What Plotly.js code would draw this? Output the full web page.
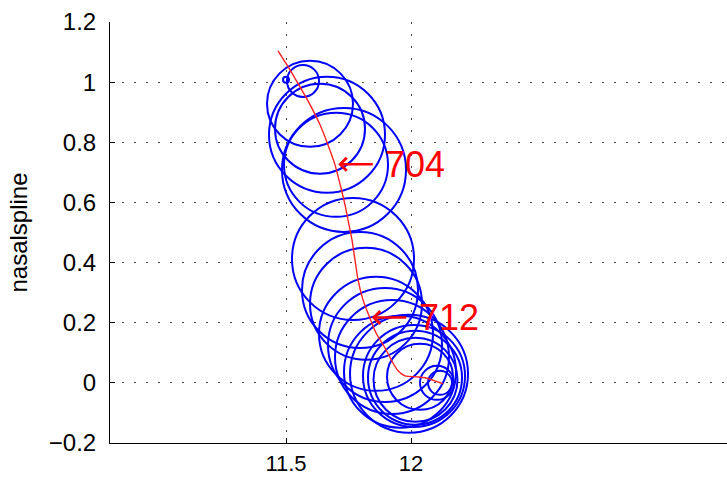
<!DOCTYPE html>
<html>
<head>
<meta charset="utf-8">
<script src="https://cdn.plot.ly/plotly-3.0.1.min.js"></script>
<style>html,body{margin:0;padding:0;background:#fff;}#chart{width:727px;height:479px;}</style>
</head>
<body>
<div id="chart"></div>
<script>
// Red trajectory
const pathX = [11.468, 11.516, 11.556, 11.596, 11.636, 11.668, 11.696, 11.720, 11.736, 11.748, 11.764, 11.776, 11.788, 11.808, 11.832, 11.860, 11.896, 11.928, 11.948, 11.976, 12.024, 12.056, 12.128];
const pathY = [1.104, 1.041, 0.984, 0.925, 0.858, 0.791, 0.725, 0.648, 0.592, 0.542, 0.475, 0.409, 0.343, 0.276, 0.223, 0.166, 0.116, 0.066, 0.040, 0.023, 0.020, 0.017, -0.003];

// Blue circles (centre and diameter in px)
const circleX = [11.500, 11.568, 11.596, 11.636, 11.664, 11.700, 11.732, 11.768, 11.796, 11.820, 11.860, 11.896, 11.924, 11.956, 11.992, 12.012, 12.016, 12.018, 12.036, 12.104, 12.116];
const circleY = [1.008, 1.004, 0.928, 0.845, 0.825, 0.725, 0.708, 0.412, 0.309, 0.263, 0.163, 0.126, 0.086, 0.037, 0.030, 0.023, 0.017, 0.010, 0.020, 0.000, 0.000];
const circleSize = [6, 32, 86, 90, 116, 104, 124, 122, 116, 112, 114, 114, 114, 112, 118, 102, 94, 84, 66, 34, 24];

// Labels
const labelText = ["704", "712"];
const labelX = [11.709, 11.843];
const labelY = [0.727, 0.217];

// Axis ticks
const xTicks = [11.5, 12];
const xTickText = ["11.5", "12"];
const yTicks = [-0.2, 0, 0.2, 0.4, 0.6, 0.8, 1, 1.2];
const yTickText = ["\u22120.2", "0", "0.2", "0.4", "0.6", "0.8", "1", "1.2"];

const traces = [
  {
    x: circleX, y: circleY, mode: 'markers', type: 'scatter', hoverinfo: 'skip',
    marker: {symbol: 'circle-open', size: circleSize, color: '#0000ff', opacity: 1, line: {color: '#0000ff', width: 2}},
    cliponaxis: false
  },
  {
    x: pathX, y: pathY, mode: 'lines', type: 'scatter', hoverinfo: 'skip',
    line: {color: '#ff2020', width: 1.4, shape: 'spline', smoothing: 0.6}
  }
];

const annotations = labelText.map((t, i) => ({
  x: labelX[i], y: labelY[i], xref: 'x', yref: 'y',
  text: t, showarrow: true, ax: 77, ay: 0,
  arrowhead: 4, arrowsize: 1, arrowwidth: 2.5, arrowcolor: '#ff0000',
  borderpad: 12, standoff: 0,
  font: {family: 'Liberation Sans, Arial, sans-serif', size: 36, color: '#ff0000'}
}));

const axisFont = {family: 'Liberation Sans, Arial, sans-serif', size: 24, color: '#000'};
const xFont = {family: 'Liberation Sans, Arial, sans-serif', size: 22, color: '#000'};

const layout = {
  width: 727, height: 479,
  margin: {l: 110, r: 0, t: 22, b: 36, pad: 0},
  paper_bgcolor: '#fff', plot_bgcolor: '#fff',
  showlegend: false,
  xaxis: {
    range: [10.796, 13.264], tickvals: xTicks, ticktext: xTickText,
    showline: true, linecolor: '#000', linewidth: 1, mirror: false,
    ticks: 'inside', ticklen: 5, tickcolor: '#000',
    showgrid: true, gridcolor: '#444', gridwidth: 1, griddash: '2px,10px',
    zeroline: false, tickfont: xFont, ticklabelstandoff: 1
  },
  yaxis: {
    range: [-0.2, 1.2], tickvals: yTicks, ticktext: yTickText,
    showline: true, linecolor: '#000', linewidth: 1, mirror: false,
    ticks: 'inside', ticklen: 5, tickcolor: '#000',
    showgrid: true, gridcolor: '#444', gridwidth: 1, griddash: '2px,10px',
    zeroline: false, tickfont: axisFont, ticklabelstandoff: 8,
    title: {text: 'nasalspline', font: axisFont, standoff: 14}
  },
  annotations: annotations
};

Plotly.newPlot('chart', traces, layout, {displayModeBar: false, staticPlot: true});
</script>
</body>
</html>
